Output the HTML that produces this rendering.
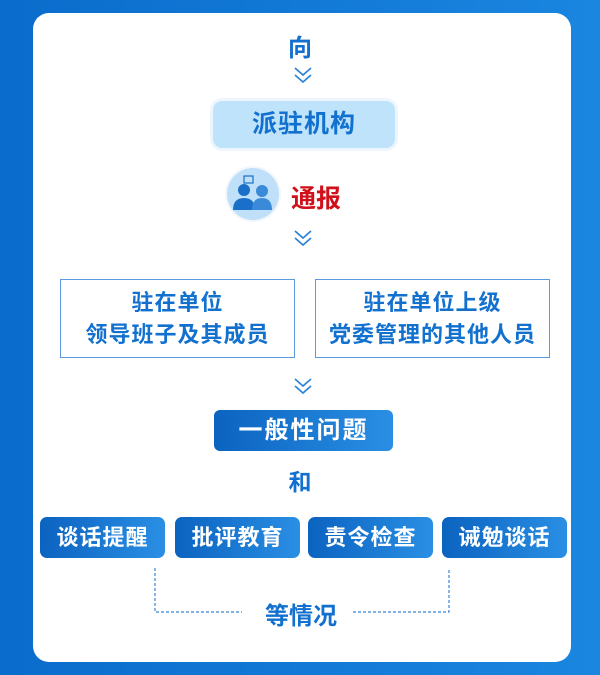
<!DOCTYPE html>
<html><head><meta charset="utf-8"><style>
body{margin:0;width:600px;height:675px;background:linear-gradient(90deg,#0a6ccc,#1a86e0);position:relative;overflow:hidden;font-family:"Liberation Sans","Noto Sans CJK SC",sans-serif;font-weight:bold}
.card{position:absolute;left:33px;top:13px;width:538px;height:649px;background:#fff;border-radius:16px}
.a{position:absolute;text-align:center}
.blue{color:#1270cf}
.btn{position:absolute;top:517px;width:125px;height:41px;border-radius:7px;background:linear-gradient(90deg,#0b63c0,#2a8fe4);color:#fff;font-size:22px;line-height:41px;text-align:center;letter-spacing:1px}
.box{position:absolute;top:279px;height:79px;width:235px;border:1.5px solid #5a9be0;box-sizing:border-box;color:#1270cf;font-size:22px;line-height:32px;text-align:center;padding-top:7px;letter-spacing:1px}
</style></head><body>
<div class="card"></div>
<div class="a blue" style="left:270px;top:28px;width:60px;font-size:24px">向</div>
<svg style="position:absolute;left:0;top:0" width="600" height="675">
<g fill="none" stroke="#2a7fd6" stroke-width="1.6">
<path d="M295 68l8 7 8-7M295 75l8 7 8-7"/>
<path d="M295 231l8 7 8-7M295 238l8 7 8-7"/>
<path d="M295 379l8 7 8-7M295 386l8 7 8-7"/>
</g>
<g fill="none" stroke="#3a86d6" stroke-width="1.2" stroke-dasharray="3 2">
<path d="M155 568V612H242M353 612H449V568"/>
</g>
<circle cx="253" cy="194" r="28" fill="#f1f7fd"/>
<circle cx="253" cy="194" r="26" fill="#bfe0f8"/>
<circle cx="244" cy="190" r="6" fill="#1a6fc8"/>
<path d="M233 210q0-12 11-12t11 12z" fill="#1a6fc8"/>
<circle cx="262" cy="191" r="6" fill="#3a8ad9"/>
<path d="M252 210q0-12 10-12t10 12z" fill="#3a8ad9"/>
<rect x="244" y="176" width="9" height="7" fill="none" stroke="#1a6fc8" stroke-width="1.2"/>
</svg>
<div style="position:absolute;left:213px;top:101px;width:182px;height:47px;background:#bfe3fb;border-radius:9px;box-shadow:0 0 0 3px #eef6fd;color:#1270cf;font-size:25px;line-height:47px;text-align:center;letter-spacing:1px">派驻机构</div>
<div class="a" style="left:291px;top:179px;font-size:25px;color:#d0101a">通报</div>
<div class="box" style="left:60px">驻在单位<br>领导班子及其成员</div>
<div class="box" style="left:315px">驻在单位上级<br>党委管理的其他人员</div>
<div style="position:absolute;left:214px;top:410px;width:179px;height:41px;border-radius:6px;background:linear-gradient(90deg,#0b63c0,#2a8fe4);color:#fff;font-size:24px;line-height:41px;text-align:center;letter-spacing:2px">一般性问题</div>
<div class="a blue" style="left:270px;top:463px;width:60px;font-size:23px">和</div>
<div class="btn" style="left:40px">谈话提醒</div>
<div class="btn" style="left:175px">批评教育</div>
<div class="btn" style="left:308px">责令检查</div>
<div class="btn" style="left:442px">诫勉谈话</div>
<div class="a blue" style="left:250px;top:596px;width:102px;font-size:24px">等情况</div>
</body></html>
